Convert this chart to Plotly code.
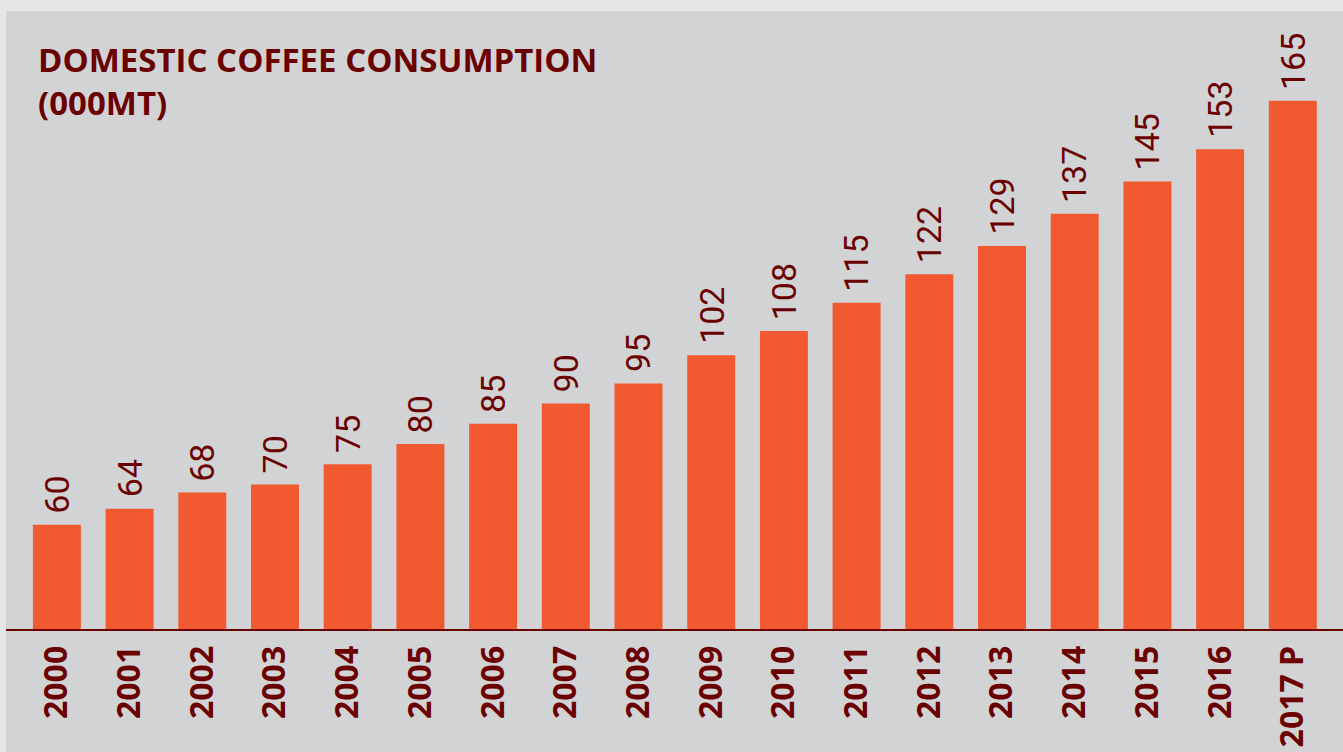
import plotly.graph_objects as go

years = ["2000", "2001", "2002", "2003", "2004", "2005", "2006", "2007", "2008",
         "2009", "2010", "2011", "2012", "2013", "2014", "2015", "2016", "2017 P"]
consumption = [60, 64, 68, 70, 75, 80, 85, 90, 95, 102, 108, 115, 122, 129, 137, 145, 153, 165]

title_lines = ["DOMESTIC COFFEE CONSUMPTION", "(000MT)"]

BAR = "#f15a31"
PANEL = "#d2d3d5"
OUTER = "#e5e6e8"
MAROON = "#6b0000"

W, H = 1343, 752
ML, MR, MT, MB = 6, 0, 11, 123
PW, PH = W - ML - MR, H - MT - MB

fig = go.Figure()
fig.add_trace(go.Bar(
    x=years, y=consumption, marker=dict(color=BAR, line=dict(width=0)),
    hoverinfo="x+y",
))

for i, v in enumerate(consumption):
    fig.add_annotation(
        x=i, y=v, xref="x", yref="y", text=str(v), showarrow=False,
        textangle=-90, yanchor="bottom", xanchor="center", yshift=9,
        font=dict(family="Liberation Sans Narrow, Roboto, sans-serif", size=34, color=MAROON),
    )

fig.add_annotation(
    xref="paper", yref="paper", x=(36 - ML) / PW, y=1 - (35 - MT) / PH,
    xanchor="left", yanchor="top", align="left", showarrow=False,
    text="<b>" + "<br>".join(title_lines) + "</b>",
    font=dict(family="Open Sans, sans-serif", size=33, color=MAROON),
)

# light outer strips (top and left)
fig.add_shape(type="rect", xref="paper", yref="paper", layer="below",
              x0=-ML / PW, x1=1 + MR / PW, y0=1, y1=1 + MT / PH,
              fillcolor=OUTER, line=dict(width=0))
fig.add_shape(type="rect", xref="paper", yref="paper", layer="below",
              x0=-ML / PW, x1=0, y0=-MB / PH, y1=1 + MT / PH,
              fillcolor=OUTER, line=dict(width=0))

fig.update_layout(
    width=W, height=H,
    margin=dict(l=ML, r=MR, t=MT, b=MB, pad=0, autoexpand=False),
    paper_bgcolor=PANEL, plot_bgcolor=PANEL,
    showlegend=False, bargap=0.34,
    xaxis=dict(
        type="category", range=[-0.70, 17.69], showgrid=False, zeroline=False,
        showline=True, linecolor=MAROON, linewidth=2, automargin=False,
        tickangle=-90, ticks="", ticklabelstandoff=2,
        tickfont=dict(family="Open Sans, sans-serif", size=32, color=MAROON, weight="bold"),
    ),
    yaxis=dict(range=[34.2, 187.2], visible=False, showgrid=False, zeroline=False),
)

fig.write_html("out.html")
